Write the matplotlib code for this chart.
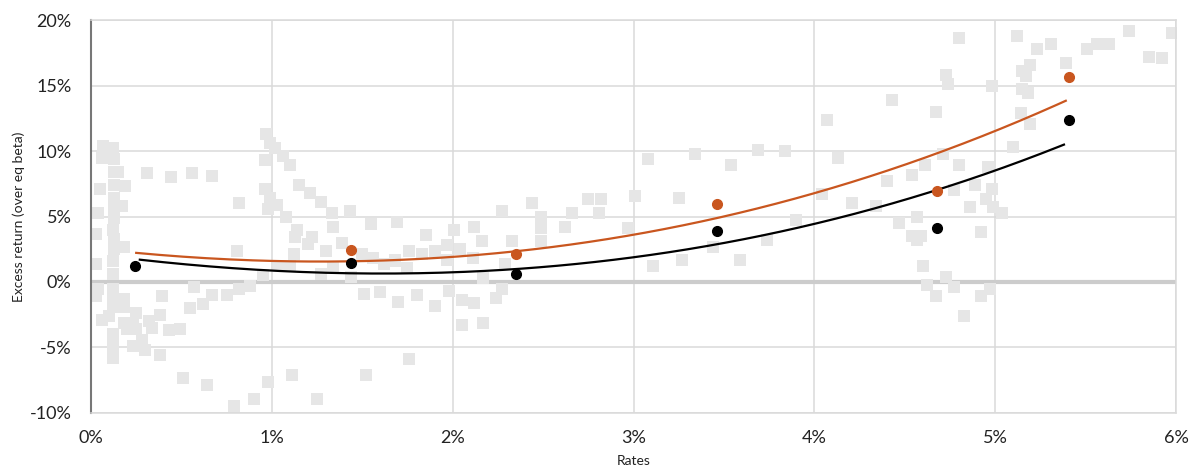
import matplotlib.pyplot as plt
import numpy as np
from matplotlib.ticker import FuncFormatter

# gray scatter: rates (%) and excess return (%)
scatter_x = [0.066, 0.12, 0.06, 0.13, 0.13, 0.15, 0.31, 0.44, 0.56, 0.67, 0.05, 0.13, 0.19,
             0.13, 0.13, 0.17, 0.04, 0.13, 0.12, 0.03, 0.13, 0.18, 0.13, 0.03, 0.12, 0.12,
             0.04, 0.03, 0.12, 0.57, 0.39, 0.18, 0.12, 0.67, 0.75, 0.12, 0.18, 0.55, 0.62,
             0.38, 0.25, 0.10, 0.06, 0.18, 0.23, 0.32, 0.34, 0.43, 0.49, 0.12, 0.20, 0.25,
             0.28, 0.12, 0.23, 0.30, 0.38, 0.12, 0.51, 0.64, 0.79, 0.82, 0.81, 0.82, 0.88,
             0.90, 0.98, 1.11, 1.25, 1.52, 0.95,
             0.97, 0.99, 1.02, 1.06, 0.96, 1.10, 1.15, 0.96, 1.21, 0.99, 1.03, 0.98, 1.27,
             1.08, 1.33, 1.43, 1.55, 1.69, 1.14, 1.13, 1.34, 1.22, 1.20, 1.39, 1.30, 1.12,
             1.50, 1.56, 1.62, 1.68, 1.10, 1.04, 1.34, 1.27, 1.44, 1.51, 1.60, 1.70,
             1.85, 2.01, 2.12, 2.27, 2.44, 2.49, 2.66, 2.75, 2.82, 2.81, 2.49, 2.62, 2.16,
             1.97, 1.76, 1.83, 1.90, 2.04, 2.33, 2.49, 1.68, 1.75, 1.97, 2.11, 2.29, 2.17,
             1.98, 2.27, 2.24, 1.80, 1.90, 2.05, 2.12, 2.05, 2.17, 1.76,
             3.08, 3.01, 3.11, 2.97, 3.34, 3.69, 3.84, 3.54, 3.25, 3.90, 3.74, 3.44, 3.27,
             3.59, 4.07, 4.43, 4.13, 4.04, 4.21, 4.34, 4.40, 4.54, 4.61, 4.47, 4.57, 4.54,
             4.59, 4.57, 4.60, 4.62, 4.67, 4.67,
             4.80, 4.73, 4.74, 4.98, 5.12, 5.23, 5.31, 5.15, 5.19, 5.17, 5.39, 5.51, 5.56,
             5.63, 5.74, 5.85, 5.92, 5.98, 5.15, 5.18, 5.14, 5.19, 5.10, 4.71, 4.80, 4.96,
             4.77, 4.89, 4.98, 4.95, 4.99, 5.04, 4.86, 4.92, 4.73, 4.77, 4.97, 4.92, 4.83]
scatter_y = [10.4, 10.2, 9.5, 9.4, 8.4, 8.4, 8.3, 8.0, 8.3, 8.1, 7.1, 7.4, 7.3,
             6.4, 5.7, 5.8, 5.3, 4.9, 4.0, 3.7, 3.3, 2.7, 2.5, 1.4, 1.6, 0.6,
             -0.5, -1.1, -0.5, -0.4, -1.1, -1.3, -1.3, -1.0, -1.0, -1.9, -1.9, -2.0, -1.7,
             -2.5, -2.4, -2.6, -2.9, -3.1, -3.1, -3.0, -3.5, -3.7, -3.6, -4.0, -3.6, -3.6,
             -4.4, -4.9, -4.9, -5.2, -5.6, -5.8, -7.3, -7.9, -9.5, 6.0, 2.4, -0.5, -0.3,
             -8.9, -7.6, -7.1, -8.9, -7.1, 0.5,
             11.3, 10.6, 10.2, 9.6, 9.3, 8.9, 7.4, 7.1, 6.8, 6.4, 5.9, 5.6, 6.1,
             5.0, 5.3, 5.4, 4.4, 4.6, 4.0, 3.4, 4.2, 3.4, 2.9, 3.0, 2.4, 2.1,
             2.1, 1.8, 1.4, 1.7, 1.2, 1.2, 1.1, 0.6, 0.4, -0.9, -0.8, -1.5,
             3.6, 4.0, 4.2, 5.4, 6.0, 5.0, 5.3, 6.3, 6.3, 5.3, 4.1, 4.2, 3.1,
             2.8, 2.4, 2.1, 2.4, 2.5, 3.1, 3.1, 1.6, 1.1, 1.7, 1.8, 1.4, 0.3,
             -0.7, -0.5, -1.2, -1.0, -1.8, -1.4, -1.6, -3.3, -3.1, -5.9,
             9.4, 6.6, 1.2, 4.1, 9.8, 10.1, 10.0, 8.9, 6.4, 4.7, 3.2, 2.7, 1.7,
             1.7, 12.4, 13.9, 9.5, 6.7, 6.0, 5.8, 7.7, 8.2, 8.9, 4.5, 5.0, 3.5,
             3.5, 3.2, 1.2, -0.2, -1.1, 13.0,
             18.6, 15.8, 15.1, 15.0, 18.8, 17.8, 18.2, 16.1, 16.6, 15.7, 16.7, 17.8, 18.2,
             18.2, 19.2, 17.2, 17.1, 19.0, 14.7, 14.4, 12.9, 12.1, 10.3, 9.8, 8.9, 8.8,
             7.0, 7.4, 7.1, 6.3, 5.7, 5.3, 5.7, 3.8, 0.4, -0.4, -0.5, -1.1, -2.6]

# bucket averages
bucket_x = [0.243, 1.44, 2.35, 3.46, 4.68, 5.41]
black_y = [1.22, 1.45, 0.61, 3.90, 4.10, 12.40]
orange_x = [1.44, 2.35, 3.46, 4.68, 5.41]
orange_y = [2.44, 2.14, 5.95, 6.95, 15.65]

# trend lines, values
black_trend_x = [0.27, 1.0, 1.6, 2.35, 3.15, 4.7, 5.38]
black_trend_y = [1.7, 0.9, 0.6, 1.0, 2.2, 7.1, 10.5]
orange_trend_x = [0.25, 1.0, 1.54, 2.35, 3.15, 4.7, 5.39]
orange_trend_y = [2.2, 1.6, 1.75, 2.2, 4.0, 10.0, 13.8]

orange = '#c9561f'

fig = plt.figure(figsize=(11.94, 4.70), dpi=100)
ax = fig.add_axes([0.0762, 0.1213, 0.9088, 0.8361])

ax.scatter(scatter_x, scatter_y, marker='s', s=70, color='#e6e6e6', linewidths=0, zorder=2)

# smooth polynomial trend through the read curve values
for tx, ty, c in [(orange_trend_x, orange_trend_y, orange), (black_trend_x, black_trend_y, 'black')]:
    xs = np.linspace(tx[0], tx[-1], 200)
    ax.plot(xs, np.polyval(np.polyfit(tx, ty, 3), xs), color=c, lw=1.6, zorder=3)

ax.plot(orange_x, orange_y, 'o', color=orange, ms=7, zorder=4)
ax.plot(bucket_x, black_y, 'o', color='black', ms=7, zorder=5)

ax.set_xlim(0, 6)
ax.set_ylim(-10, 20)
ax.set_xticks(range(0, 7))
ax.set_yticks(range(-10, 21, 5))
ax.xaxis.set_major_formatter(FuncFormatter(lambda v, p: f'{v:.0f}%'))
ax.yaxis.set_major_formatter(FuncFormatter(lambda v, p: f'{v:.0f}%'))
ax.tick_params(length=0, labelsize=13, labelcolor='#222222')
ax.tick_params(axis='x', pad=12)
ax.tick_params(axis='y', pad=14)
for lab in ax.get_xticklabels() + ax.get_yticklabels():
    lab.set_fontfamily('Lato')

ax.grid(True, color='#dadada', lw=1.1, zorder=0)
ax.set_axisbelow(True)
ax.axhline(0, color='#cccccc', lw=3, zorder=1)
for s in ['top', 'right', 'bottom']:
    ax.spines[s].set_color('#dadada')
    ax.spines[s].set_linewidth(1.1)
ax.spines['left'].set_color('#777777')
ax.spines['left'].set_linewidth(1.5)

ax.set_xlabel('Rates', fontsize=10, family='Lato', color='#222222', labelpad=7)
ax.set_ylabel('Excess return (over eq beta)', fontsize=10, family='Lato', color='#222222', labelpad=3)

fig.savefig('out.png', dpi=100)
